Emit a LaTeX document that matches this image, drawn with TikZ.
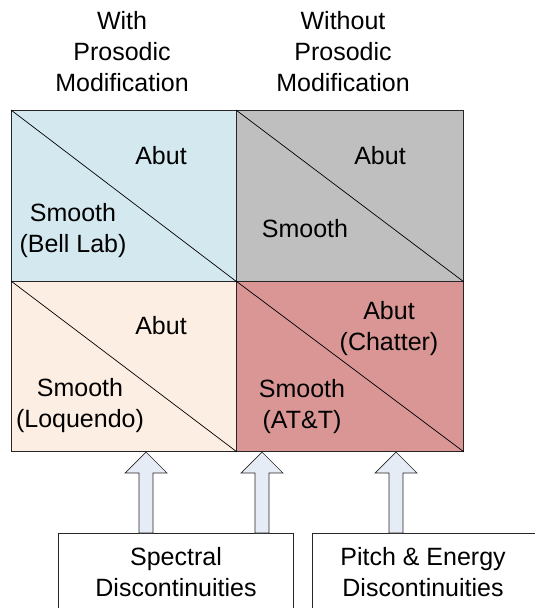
\documentclass[tikz,border=0pt]{standalone}
\usepackage{fontspec}
\setmainfont{Liberation Sans}
\definecolor{cTL}{HTML}{D3E9EF}
\definecolor{cTR}{HTML}{BFBFBF}
\definecolor{cBL}{HTML}{FDEEE3}
\definecolor{cBR}{HTML}{D99694}
\definecolor{cArr}{HTML}{E6ECF6}
\begin{document}
\begin{tikzpicture}[x=1pt,y=-1pt,
  cell/.style={draw=black!85, line width=0.9pt, minimum width=225pt, minimum height=171pt, inner sep=0pt, anchor=north west},
  diag/.style={draw=black, line width=0.7pt},
  txt/.style={align=center, inner sep=0pt, font=\fontsize{25}{31}\selectfont},
  srcbox/.style={draw=black!85, line width=0.8pt, fill=white, inner sep=0pt, anchor=north west},
  blockarrow/.style={draw=black!85, line width=0.7pt, fill=cArr, line join=miter}
]
\useasboundingbox (0,0) rectangle (535,608);
\clip (0,0) rectangle (535,608);
% header
\node[txt] (h1) at (122,52) {With\\Prosodic\\Modification};
\node[txt] (h2) at (343,52) {Without\\Prosodic\\Modification};
% cells
\node[cell, fill=cTL] (tl) at (11,110) {};
\node[cell, fill=cTR, minimum width=227pt] (tr) at (236,110) {};
\node[cell, fill=cBL, minimum height=170pt] (bl) at (11,281) {};
\node[cell, fill=cBR, minimum width=227pt, minimum height=170pt] (br) at (236,281) {};
\foreach \c in {tl,tr,bl,br}{\draw[diag] (\c.north west) -- (\c.south east);}
% cell texts
\node[txt] (tla) at (161,156) {Abut};
\node[txt] (tls) at (73,231) {Smooth\\(Bell Lab)};
\node[txt] (tra) at (380,156) {Abut};
\node[txt] (trs) at (305,229) {Smooth};
\node[txt] (bla) at (161,326) {Abut};
\node[txt] (bls) at (80,406) {Smooth\\(Loquendo)};
\node[txt] (bra) at (389,329) {Abut\\(Chatter)};
\node[txt] (brs) at (302,407) {Smooth\\(AT\&T)};
% source boxes
\node[srcbox, minimum width=235pt, minimum height=90pt] (spec) at (58,533) {};
\node[srcbox, minimum width=225pt, minimum height=90pt] (pitch) at (312,533) {};
\node[txt] (spect) at (176,572) {Spectral\\Discontinuities};
\node[txt] (pitcht) at (423,572) {Pitch \& Energy\\Discontinuities};
% block arrows
\coordinate (t1) at (146,452);
\coordinate (t2) at (262,452);
\coordinate (t3) at (396,452);
\foreach \t/\b in {t1/spec, t2/spec, t3/pitch}{
  \draw[blockarrow] (\t) -- ([shift={(21,21)}]\t) -- ([shift={(7,21)}]\t) -- ([shift={(7,0)}]\t |- \b.north) -- ([shift={(-7,0)}]\t |- \b.north) -- ([shift={(-7,21)}]\t) -- ([shift={(-21,21)}]\t) -- cycle;
}
\end{tikzpicture}
\end{document}
